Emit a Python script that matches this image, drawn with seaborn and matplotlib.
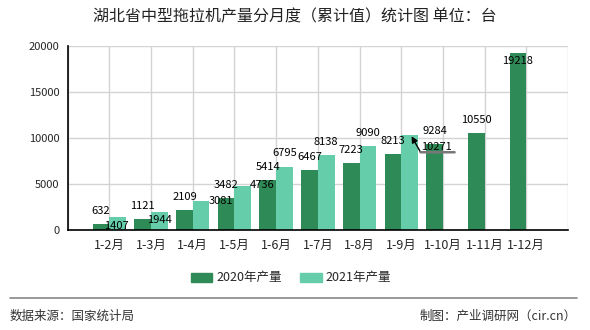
import numpy as np
import pandas as pd
import matplotlib
matplotlib.use('Agg')
import matplotlib.pyplot as plt
import seaborn as sns
from matplotlib.transforms import offset_copy
from matplotlib.lines import Line2D

# ---------------- data ----------------
categories = ['1-2月', '1-3月', '1-4月', '1-5月', '1-6月', '1-7月',
              '1-8月', '1-9月', '1-10月', '1-11月', '1-12月']
prod_2020 = [632, 1121, 2109, 3482, 5414, 6467, 7223, 8213, 9284, 10550, 19218]
prod_2021 = [1407, 1944, 3081, 4736, 6795, 8138, 9090, 10271, np.nan, np.nan, np.nan]
series_names = ['2020年产量', '2021年产量']
y_ticks = [0, 5000, 10000, 15000, 20000]
title_text = '湖北省中型拖拉机产量分月度（累计值）统计图 单位：台'
source_text = '数据来源：国家统计局'
credit_text = '制图：产业调研网（cir.cn）'

# label offsets (pixels, dx, dy: + is up) for each series
label_off_2020 = [(0, 13)] * 10 + [(0, -8)]
label_off_2021 = [(-1, -9), (0, -8), (20, 0), (19, 1), (0, 14), (0, 13), (0, 13), None,
                  None, None, None]

colors = ['#2e8b57', '#66cdaa']

df = pd.DataFrame({
    'cat': categories * 2,
    'val': list(prod_2020) + list(prod_2021),
    'series': [series_names[0]] * len(categories) + [series_names[1]] * len(categories),
})

sns.set_style('white')
plt.rcParams['font.family'] = ['Noto Sans CJK SC', 'DejaVu Sans']

fig = plt.figure(figsize=(5.9, 3.3), dpi=100)
ax = fig.add_axes([67.7 / 590, 1 - 229.5 / 330, (568 - 67.7) / 590, (229.5 - 46) / 330])

sns.barplot(data=df, x='cat', y='val', hue='series', order=categories,
            hue_order=series_names, palette=colors, width=0.8, saturation=1,
            ax=ax, legend=False, zorder=3, linewidth=0)

ax.set_xlim(-1, len(categories))
ax.set_ylim(0, 20000)
ax.set_yticks(y_ticks)
ax.set_yticklabels([str(v) for v in y_ticks], fontsize=8)
xt = list(range(-1, len(categories) + 1))
ax.set_xticks(xt)
ax.set_xticklabels([''] + categories + [''], fontsize=9)
ax.set_xlabel('')
ax.set_ylabel('')
ax.tick_params(axis='both', direction='out', length=4, width=1, color='black', pad=2)
ax.tick_params(axis='x', pad=3)
for s in ['top', 'right']:
    ax.spines[s].set_visible(False)
for s in ['left', 'bottom']:
    ax.spines[s].set_color('black')
    ax.spines[s].set_linewidth(1.2)
    ax.spines[s].set_zorder(5)
ax.grid(True, color='#d3d3d3', linewidth=1, zorder=0)
ax.set_axisbelow(True)

# ------------- data labels -------------
px = 0.72  # pixels -> points at 100 dpi
for cont, offs in zip(ax.containers, [label_off_2020, label_off_2021]):
    for i, bar in enumerate(cont):
        h = bar.get_height()
        if h is None or np.isnan(h):
            continue
        xc = bar.get_x() + bar.get_width() / 2
        # map bar to category index
        idx = int(round(bar.get_x() + bar.get_width()))  if False else int(round(xc))
        off = offs[idx] if idx < len(offs) else (0, 13)
        if off is None:
            # special annotated label with arrow + underline
            ax.annotate(f'{int(h)}', xy=(xc, h), xycoords='data',
                        xytext=(27 * px, -12 * px), textcoords='offset points',
                        ha='center', va='center', fontsize=8, color='black', zorder=6)
            ax.annotate('', xy=(xc, h), xytext=(xc, h),
                        xycoords=offset_copy(ax.transData, fig=fig, x=2, y=-1, units='dots'),
                        textcoords=offset_copy(ax.transData, fig=fig, x=11, y=-17, units='dots'),
                        arrowprops=dict(arrowstyle='-|>', color='black', lw=1,
                                        shrinkA=0, shrinkB=0, mutation_scale=9), zorder=6)
            ax.annotate('', xy=(xc, h), xytext=(xc, h),
                        xycoords=offset_copy(ax.transData, fig=fig, x=45, y=-17, units='dots'),
                        textcoords=offset_copy(ax.transData, fig=fig, x=11, y=-17, units='dots'),
                        arrowprops=dict(arrowstyle='-', color='#777777', lw=1.8,
                                        shrinkA=0, shrinkB=0), zorder=6)
            continue
        ax.annotate(f'{int(h)}', xy=(xc, h), xycoords='data',
                    xytext=(off[0] * px, off[1] * px), textcoords='offset points',
                    ha='center', va='center', fontsize=8, color='black', zorder=6)

# ------------- legend -------------
handles = [plt.Rectangle((0, 0), 1, 1, color=c) for c in colors]
fig.legend(handles, series_names, loc='center', bbox_to_anchor=(291 / 590, 1 - 278 / 330),
           ncol=2, frameon=False, fontsize=9, handlelength=1.7, handleheight=0.7,
           handletextpad=0.3, columnspacing=1.5)

# ------------- title & footer -------------
fig.text(295 / 590, 1 - 17 / 330, title_text, ha='center', va='center', fontsize=11.5,
         color='#222222')
fig.add_artist(Line2D([10 / 590, 577 / 590], [1 - 298 / 330] * 2, color='#888888', lw=1.2))
fig.text(10 / 590, 1 - 316 / 330, source_text, ha='left', va='center', fontsize=9,
         color='#333333')
fig.text(577 / 590, 1 - 316 / 330, credit_text, ha='right', va='center', fontsize=9,
         color='#333333')

fig.savefig('out.png', dpi=100)
